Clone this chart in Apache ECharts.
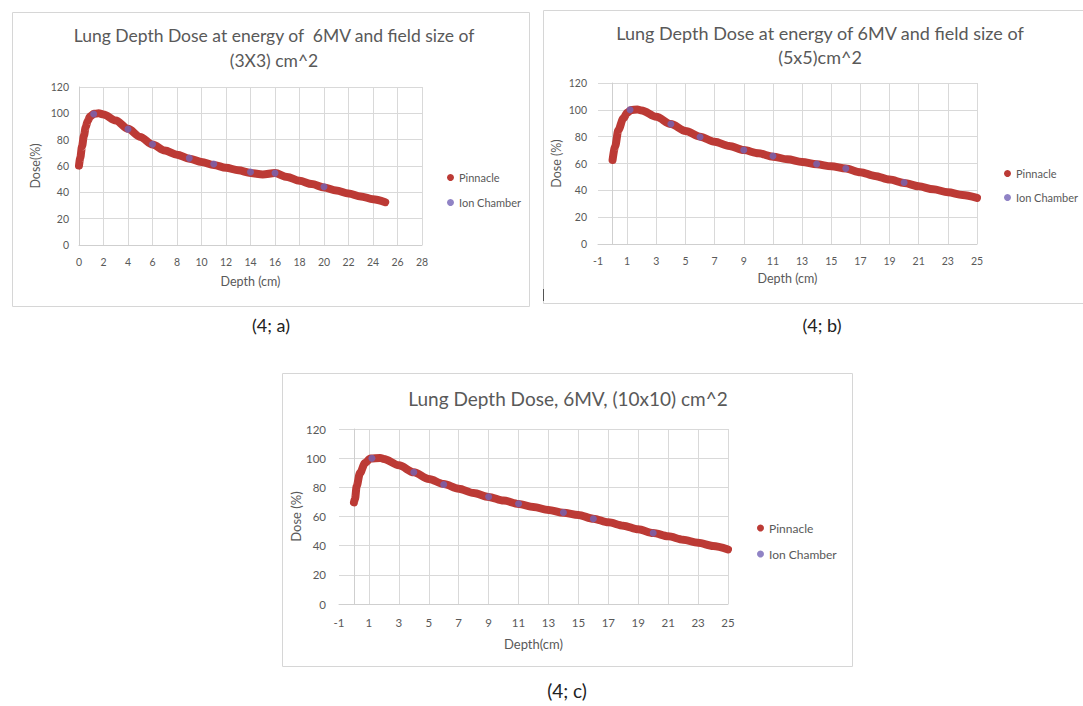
<!DOCTYPE html>
<html><head><meta charset="utf-8">
<script src="https://cdn.jsdelivr.net/npm/echarts@6/dist/echarts.min.js"></script>
<style>html,body{margin:0;padding:0;background:#fff}#c{width:1083px;height:706px}</style>
</head><body><div id="c"></div>
<script>
// ---------- Panel (4; a) 3x3 ----------
const pinDepthA = [0, 0.1, 0.25, 0.4, 0.55, 0.7, 0.9, 1.2, 1.6, 2, 3, 4, 5, 6, 7, 8, 9, 10, 11, 12, 13, 14, 15, 16, 17, 18, 19, 20, 21, 22, 23, 24, 25];
const pinDoseA  = [60.3, 66, 75, 83, 89.5, 94, 97.5, 99.6, 100, 99.2, 94.6, 88.2, 82.1, 76.3, 71.7, 68.6, 65.6, 63, 60.8, 58.7, 56.7, 54.7, 53.6, 54.7, 51.6, 48.8, 46.3, 43.7, 41.4, 39.2, 36.9, 34.8, 32.5];
const icDepthA  = [1.2, 4, 6, 9, 11, 14, 16, 20];
const icDoseA   = [99.5, 88, 76.5, 66, 61.5, 55.5, 54.6, 44.3];

// ---------- Panel (4; b) 5x5 ----------
const pinDepthB = [0, 0.17, 0.4, 0.73, 1.0, 1.25, 1.7, 2, 3, 4, 5, 6, 7, 8, 9, 10, 11, 12, 13, 14, 15, 16, 17, 18, 19, 20, 21, 22, 23, 24, 25];
const pinDoseB  = [62.6, 72.5, 85, 93.5, 97.8, 99.8, 100.2, 99.5, 94.8, 89.4, 84.2, 80, 76.2, 73, 70, 67.6, 65.1, 63.1, 61.1, 59.4, 57.9, 56.2, 53.5, 50.7, 48, 45.5, 43, 40.8, 38.6, 36.6, 34.4];
const icDepthB  = [1.2, 4, 6, 9, 11, 14, 16, 20];
const icDoseB   = [100, 89.4, 79.8, 70, 65.6, 59.6, 56.3, 45.8];

// ---------- Panel (4; c) 10x10 ----------
const pinDepthC = [0, 0.07, 0.18, 0.4, 0.74, 1.1, 1.75, 2, 3, 4, 5, 6, 7, 8, 9, 10, 11, 12, 13, 14, 15, 16, 17, 18, 19, 20, 21, 22, 23, 24, 25];
const pinDoseC  = [69.7, 72, 80.7, 89.8, 96.7, 99.8, 100.2, 99.4, 95.1, 90.3, 85.7, 82.3, 79.1, 76.1, 73.4, 70.9, 68.6, 66.5, 64.5, 62.6, 61, 58.5, 56, 53.7, 51.2, 48.7, 46.4, 44.1, 42, 39.8, 37.4];
const icDepthC  = [1.2, 4, 6, 9, 11, 14, 16, 20];
const icDoseC   = [100, 90.3, 82, 73.6, 68.8, 62.8, 58.5, 48.7];

const seriesNames = ['Pinnacle', 'Ion Chamber'];
const titleA = ['Lung Depth Dose at energy of  6MV and field size of', '(3X3) cm^2'];
const titleB = ['Lung Depth Dose at energy of 6MV and field size of', '(5x5)cm^2'];
const titleC = ['Lung Depth Dose, 6MV, (10x10) cm^2'];
const captions = ['(4; a)', '(4; b)', '(4; c)'];
const xNames = ['Depth (cm)', 'Depth (cm)', 'Depth(cm)'];
const yNames = ['Dose(%)', 'Dose (%)', 'Dose (%)'];

const FONT = 'Lato, "Open Sans", sans-serif';
const RED = '#bc3a35';
const PURPLE = '#7464b6';
const GRID = '#d9d9d9';
const LABEL = '#595959';

const pairs = (xs, ys) => xs.map((x, i) => [x, ys[i]]);

function pinSeries(i, xs, ys) {
  return {
    type: 'line', name: seriesNames[0], xAxisIndex: i, yAxisIndex: i,
    data: pairs(xs, ys), smooth: 0.3, smoothMonotone: 'x',
    symbol: 'circle', symbolSize: 8, showSymbol: false,
    lineStyle: { color: RED, width: 8, cap: 'round', join: 'round' },
    itemStyle: { color: RED }, z: 2, silent: true
  };
}
function icSeries(i, xs, ys) {
  return {
    type: 'scatter', name: seriesNames[1], xAxisIndex: i, yAxisIndex: i,
    data: pairs(xs, ys), symbol: 'circle', symbolSize: 7,
    itemStyle: { color: PURPLE }, z: 3, silent: true
  };
}

function xAxis(i, min, max, cfg) {
  return {
    gridIndex: i, type: 'value', min: min, max: max, interval: 2,
    axisLine: { show: true, onZero: true, lineStyle: { color: '#cfcfcf', width: 1 } },
    axisTick: { show: false },
    axisLabel: { fontSize: cfg.fs, color: LABEL, margin: cfg.margin, fontFamily: FONT },
    splitLine: { show: true, showMinLine: cfg.minLine, lineStyle: { color: GRID, width: 1 } },
    name: xNames[i], nameLocation: 'middle', nameGap: cfg.nameGap,
    nameTextStyle: { fontSize: cfg.nfs, color: LABEL, fontFamily: FONT }
  };
}
function yAxis(i, cfg) {
  return {
    gridIndex: i, type: 'value', min: 0, max: 120, interval: 20,
    axisLine: { show: true, onZero: true, lineStyle: { color: '#cfcfcf', width: 1 } },
    axisTick: { show: false },
    axisLabel: { fontSize: cfg.fs, color: LABEL, margin: cfg.margin, fontFamily: FONT },
    splitLine: { show: true, lineStyle: { color: GRID, width: 1 } },
    name: yNames[i], nameLocation: 'middle', nameRotate: 90, nameGap: cfg.nameGap,
    nameTextStyle: { fontSize: cfg.nfs, color: LABEL, fontFamily: FONT }
  };
}
function legend(left, top, gap, fs) {
  return {
    data: seriesNames, orient: 'vertical', left: left, top: top, icon: 'circle',
    itemWidth: 7, itemHeight: 7, itemGap: gap, selectedMode: false,
    textStyle: { fontSize: fs, color: LABEL, fontFamily: FONT }, padding: 0
  };
}
function txt(x, y, s, fs, color) {
  return { type: 'text', x: x, y: y, silent: true,
    style: { text: s, fill: color || '#595959', font: fs + 'px ' + FONT, textAlign: 'center', textVerticalAlign: 'middle' } };
}
function box(x, y, w, h) {
  return { type: 'rect', silent: true, shape: { x: x, y: y, width: w, height: h },
    style: { fill: 'none', stroke: '#d6d6d6', lineWidth: 1 }, z: -1 };
}

const chart = echarts.init(document.getElementById('c'), null, { renderer: 'svg', width: 1083, height: 706 });
chart.setOption({
  backgroundColor: '#ffffff',
  animation: false,
  grid: [
    { left: 79, top: 87, width: 343, height: 158 },
    { left: 598, top: 83, width: 379, height: 161 },
    { left: 339, top: 429, width: 389, height: 175 }
  ],
  xAxis: [
    xAxis(0, 0, 28, { fs: 10.5, margin: 11, nameGap: 30, nfs: 12.5, minLine: true }),
    xAxis(1, -1, 25, { fs: 10.5, margin: 11, nameGap: 28, nfs: 12.5, minLine: false }),
    xAxis(2, -1, 25, { fs: 11.5, margin: 12, nameGap: 33, nfs: 13, minLine: false })
  ],
  yAxis: [
    yAxis(0, { fs: 10.5, margin: 10, nameGap: 37, nfs: 12.5 }),
    yAxis(1, { fs: 10.5, margin: 11, nameGap: 35, nfs: 12.5 }),
    yAxis(2, { fs: 11.5, margin: 13, nameGap: 37, nfs: 13 })
  ],
  legend: [
    legend(447, 172, 14, 11),
    legend(1004, 168, 13, 11),
    legend(757, 522, 14, 12)
  ],
  series: [
    pinSeries(0, pinDepthA, pinDoseA), icSeries(0, icDepthA, icDoseA),
    pinSeries(1, pinDepthB, pinDoseB), icSeries(1, icDepthB, icDoseB),
    pinSeries(2, pinDepthC, pinDoseC), icSeries(2, icDepthC, icDoseC)
  ],
  graphic: [
    box(12.5, 12.5, 517, 294),
    box(543.5, 10.5, 560, 293),
    box(282.5, 373.5, 570, 293),
    { type: 'line', silent: true, shape: { x1: 543.5, y1: 289, x2: 543.5, y2: 301 }, style: { stroke: '#555', lineWidth: 1 } },
    txt(274, 35, titleA[0], 17.5),
    txt(274, 60, titleA[1], 17.5),
    txt(820, 33, titleB[0], 18),
    txt(820, 57, titleB[1], 18),
    txt(568, 398, titleC[0], 19),
    txt(271, 325, captions[0], 18, '#222'),
    txt(822, 325, captions[1], 18, '#222'),
    txt(567, 690, captions[2], 19, '#222')
  ]
});
</script>
</body></html>
